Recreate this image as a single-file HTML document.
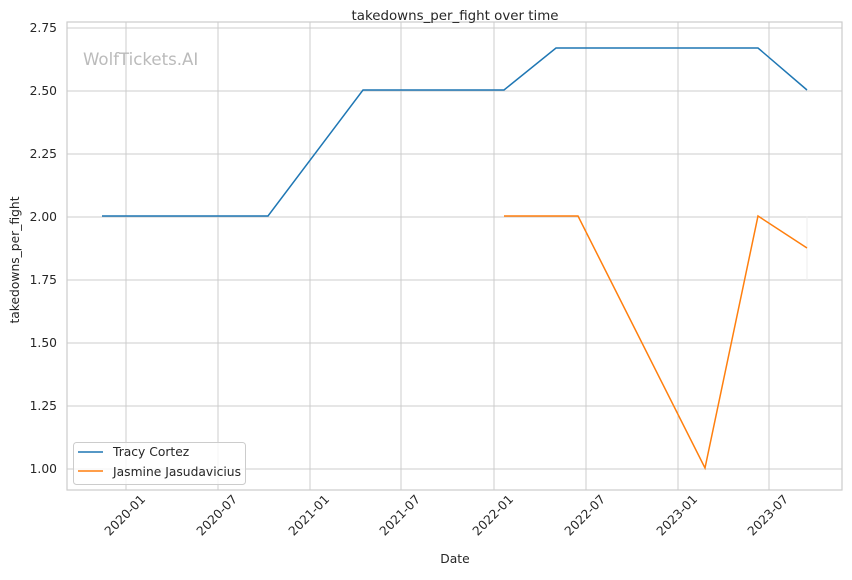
<!DOCTYPE html>
<html><head><style>body{margin:0;background:#fff}</style></head><body>
<svg width="852" height="575" xmlns="http://www.w3.org/2000/svg" font-family="DejaVu Sans, Liberation Sans, sans-serif" fill="#262626">
<rect width="852" height="575" fill="#fff"/>
<g stroke="#cccccc" stroke-width="1">
<line x1="126" y1="22" x2="126" y2="490"/><line x1="218" y1="22" x2="218" y2="490"/><line x1="310" y1="22" x2="310" y2="490"/><line x1="401" y1="22" x2="401" y2="490"/><line x1="494" y1="22" x2="494" y2="490"/><line x1="586" y1="22" x2="586" y2="490"/><line x1="678" y1="22" x2="678" y2="490"/><line x1="769" y1="22" x2="769" y2="490"/>
<line x1="67" y1="28" x2="842" y2="28"/><line x1="67" y1="91" x2="842" y2="91"/><line x1="67" y1="154" x2="842" y2="154"/><line x1="67" y1="217" x2="842" y2="217"/><line x1="67" y1="280" x2="842" y2="280"/><line x1="67" y1="343" x2="842" y2="343"/><line x1="67" y1="406" x2="842" y2="406"/><line x1="67" y1="469" x2="842" y2="469"/>
</g>
<rect x="67" y="22" width="775" height="468" fill="none" stroke="#cccccc" stroke-width="1.2"/>
<text x="83" y="65" font-size="16.6" fill="#bbbbbb">WolfTickets.AI</text>
<text x="455" y="20" font-size="13.4" text-anchor="middle">takedowns_per_fight over time</text>
<g font-size="12.3" text-anchor="end">
<text x="57" y="32">2.75</text><text x="57" y="95">2.50</text><text x="57" y="158">2.25</text><text x="57" y="221">2.00</text><text x="57" y="284">1.75</text><text x="57" y="347">1.50</text><text x="57" y="410">1.25</text><text x="57" y="473">1.00</text>
</g>
<g font-size="12.3" text-anchor="end">
<text transform="translate(146,500) rotate(-45)">2020-01</text>
<text transform="translate(238,500) rotate(-45)">2020-07</text>
<text transform="translate(330,500) rotate(-45)">2021-01</text>
<text transform="translate(421,500) rotate(-45)">2021-07</text>
<text transform="translate(514,500) rotate(-45)">2022-01</text>
<text transform="translate(606,500) rotate(-45)">2022-07</text>
<text transform="translate(698,500) rotate(-45)">2023-01</text>
<text transform="translate(789,500) rotate(-45)">2023-07</text>
</g>
<text x="455" y="563" font-size="12.3" text-anchor="middle">Date</text>
<text transform="translate(19,260) rotate(-90)" font-size="12.3" text-anchor="middle">takedowns_per_fight</text>
<line x1="807" y1="216" x2="807" y2="280" stroke="#eeeeee"/>
<polyline points="102,216 268,216 363,90 504,90 556,48 758,48 807,90" fill="none" stroke="#1f77b4" stroke-width="1.5"/>
<polyline points="504,216 578,216 705,468 758,216 807,248" fill="none" stroke="#ff7f0e" stroke-width="1.5"/>
<rect x="73.5" y="442.5" width="172" height="42" rx="3" fill="#fff" fill-opacity="0.8" stroke="#cccccc"/>
<line x1="78" y1="452" x2="103" y2="452" stroke="#1f77b4" stroke-width="1.5"/>
<line x1="78" y1="471" x2="103" y2="471" stroke="#ff7f0e" stroke-width="1.5"/>
<text x="113" y="456" font-size="12.3">Tracy Cortez</text>
<text x="113" y="476" font-size="12.3">Jasmine Jasudavicius</text>
</svg>
</body></html>
